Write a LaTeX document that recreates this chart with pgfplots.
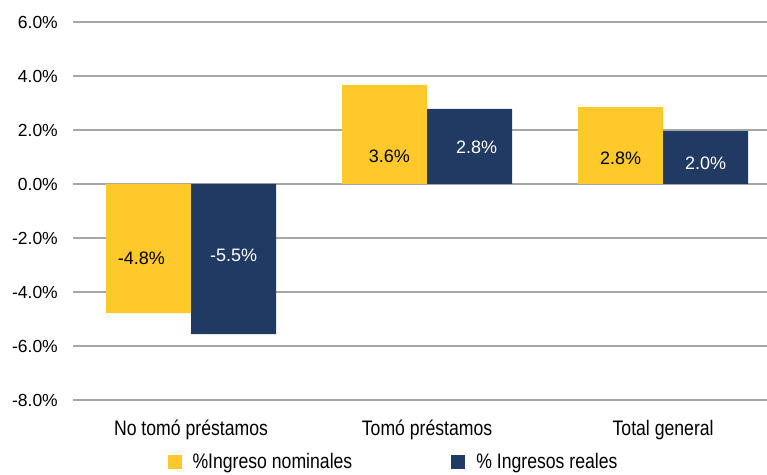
\documentclass[border=0pt]{standalone}
\usepackage{pgfplots}
\pgfplotsset{compat=1.18}
\usepackage{graphicx}
\usepackage{fontspec}
\setmainfont{Liberation Sans}
\definecolor{cyel}{HTML}{FFC92C}
\definecolor{cnav}{HTML}{213A63}
\definecolor{cgrid}{HTML}{A6A6A6}
\newcommand{\cond}[1]{\scalebox{0.84}[1]{\fontsize{21}{23}\selectfont #1}}
\begin{document}
\begin{tikzpicture}[x=1pt,y=1pt]
\useasboundingbox (0,0) rectangle (767,474);
\begin{axis}[
  at={(73pt,74pt)}, anchor=south west,
  scale only axis, width=694pt, height=378pt,
  xmin=-0.5, xmax=2.44, ymin=-8, ymax=6,
  ytick={-8,-6,-4,-2,0,2,4,6},
  xtick={0,1,2},
  xticklabels={\cond{No tomó préstamos},\cond{Tomó préstamos},\cond{Total general}},
  /pgf/number format/assume math mode=true,
  yticklabel={\pgfmathprintnumber[fixed,fixed zerofill,precision=1]{\tick}\%},
  ymajorgrids, grid style={draw=cgrid, line width=1.3pt},
  axis line style={draw=none},
  major tick style={draw=none},
  tick label style={font=\fontsize{17.5}{20}\selectfont, inner sep=0pt},
  yticklabel style={anchor=east, xshift=-15pt},
  xticklabel style={anchor=center, yshift=-26pt},
  ybar, bar width=85pt,
  legend columns=2,
  legend style={draw=none, fill=none, at={(0.4604,-0.1640)}, anchor=center,
    inner sep=0pt, nodes={inner sep=0pt},
    /tikz/every even column/.append style={column sep=99pt},
    /tikz/every odd column/.append style={column sep=11pt}},
  legend image code/.code={\fill[#1] (0pt,-7pt) rectangle (14pt,7pt);},
  clip=false,
]
\addplot[fill=cyel, draw=none, bar shift=-42.5pt] coordinates {(0,-4.78) (1,3.67) (2,2.85)};
\addlegendentry{\cond{\%Ingreso nominales}}
\addplot[fill=cnav, draw=none, bar shift=42.5pt] coordinates {(0,-5.56) (1,2.78) (2,1.96)};
\addlegendentry{\cond{\% Ingresos reales}}
\begin{scope}[font=\fontsize{18}{20}\selectfont]
\node[text=black] at (axis cs:-0.21,-2.74) {-4.8\%};
\node[text=white] at (axis cs:0.18,-2.63) {-5.5\%};
\node[text=black] at (axis cs:0.84,1.04) {3.6\%};
\node[text=white] at (axis cs:1.21,1.37) {2.8\%};
\node[text=black] at (axis cs:1.82,0.96) {2.8\%};
\node[text=white] at (axis cs:2.18,0.78) {2.0\%};
\end{scope}
\end{axis}
\end{tikzpicture}
\end{document}
